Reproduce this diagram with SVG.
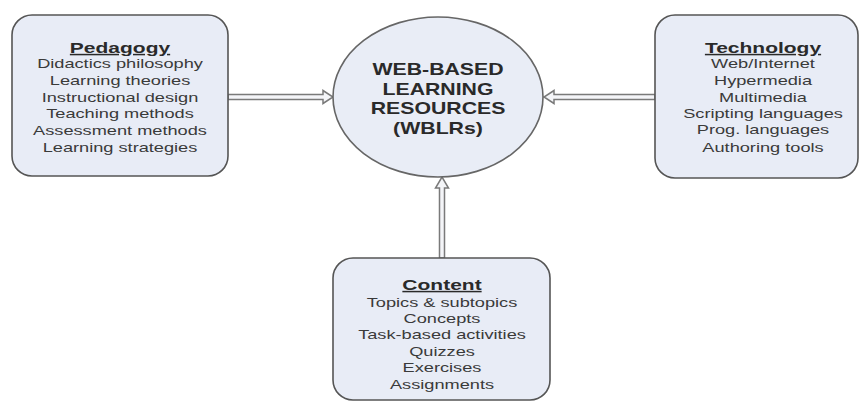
<svg xmlns="http://www.w3.org/2000/svg" width="860" height="403" viewBox="0 0 860 403">
<style>
.box{fill:#e8ecf6;stroke:#555;stroke-width:1.6}
.hub{fill:#e9edf6;stroke:#666;stroke-width:1.6}
.arr{fill:#f4f5f8;stroke:#7a7a7a;stroke-width:1.5;stroke-linejoin:miter}
text{font-family:"Liberation Sans",Arial,sans-serif;text-anchor:middle;fill:#3a3a3a}
.t{font-size:15px;font-weight:bold;text-decoration:underline;fill:#2a2a2a}
.l{font-size:13px}
.h{font-size:16px;font-weight:bold;fill:#2a2a2a}
</style>
<g id="connectors">
<path class="arr" d="M228,94.5 H323 V90.5 L333,97 L323,103.5 V99.5 H228 Z"/>
<path class="arr" d="M655,94.5 H554 V90.5 L544,97 L554,103.5 V99.5 H655 Z"/>
<path class="arr" d="M439.5,258 V188 H435.5 L442,177 L448.5,188 H444.5 V258 Z"/>
</g>
<g id="pedagogy">
<rect class="box" x="12" y="15" width="216" height="161" rx="20"/>
<g transform="translate(120,0) scale(1.4,1)">
<text class="t" x="0" y="53">Pedagogy</text>
<text class="l" x="0" y="68">Didactics philosophy</text>
<text class="l" x="0" y="85">Learning theories</text>
<text class="l" x="0" y="102">Instructional design</text>
<text class="l" x="0" y="118">Teaching methods</text>
<text class="l" x="0" y="135">Assessment methods</text>
<text class="l" x="0" y="152">Learning strategies</text>
</g>
</g>
<g id="wblrs">
<ellipse class="hub" cx="438" cy="97" rx="105" ry="80"/>
<g transform="translate(438,0) scale(1.33,1)">
<text class="h" x="0" y="75">WEB-BASED</text>
<text class="h" x="0" y="95">LEARNING</text>
<text class="h" x="0" y="114">RESOURCES</text>
<text class="h" x="0" y="134">(WBLRs)</text>
</g>
</g>
<g id="technology">
<rect class="box" x="655" y="15" width="203" height="163" rx="20"/>
<g transform="translate(763,0) scale(1.4,1)">
<text class="t" x="0" y="53">Technology</text>
<text class="l" x="0" y="68">Web/Internet</text>
<text class="l" x="0" y="85">Hypermedia</text>
<text class="l" x="0" y="102">Multimedia</text>
<text class="l" x="0" y="118">Scripting languages</text>
<text class="l" x="0" y="134">Prog. languages</text>
<text class="l" x="0" y="152">Authoring tools</text>
</g>
</g>
<g id="content">
<rect class="box" x="333" y="258" width="217" height="142" rx="20"/>
<g transform="translate(442,0) scale(1.4,1)">
<text class="t" x="0" y="290">Content</text>
<text class="l" x="0" y="307">Topics &amp; subtopics</text>
<text class="l" x="0" y="323">Concepts</text>
<text class="l" x="0" y="339">Task-based activities</text>
<text class="l" x="0" y="356">Quizzes</text>
<text class="l" x="0" y="372">Exercises</text>
<text class="l" x="0" y="389">Assignments</text>
</g>
</g>
</svg>
